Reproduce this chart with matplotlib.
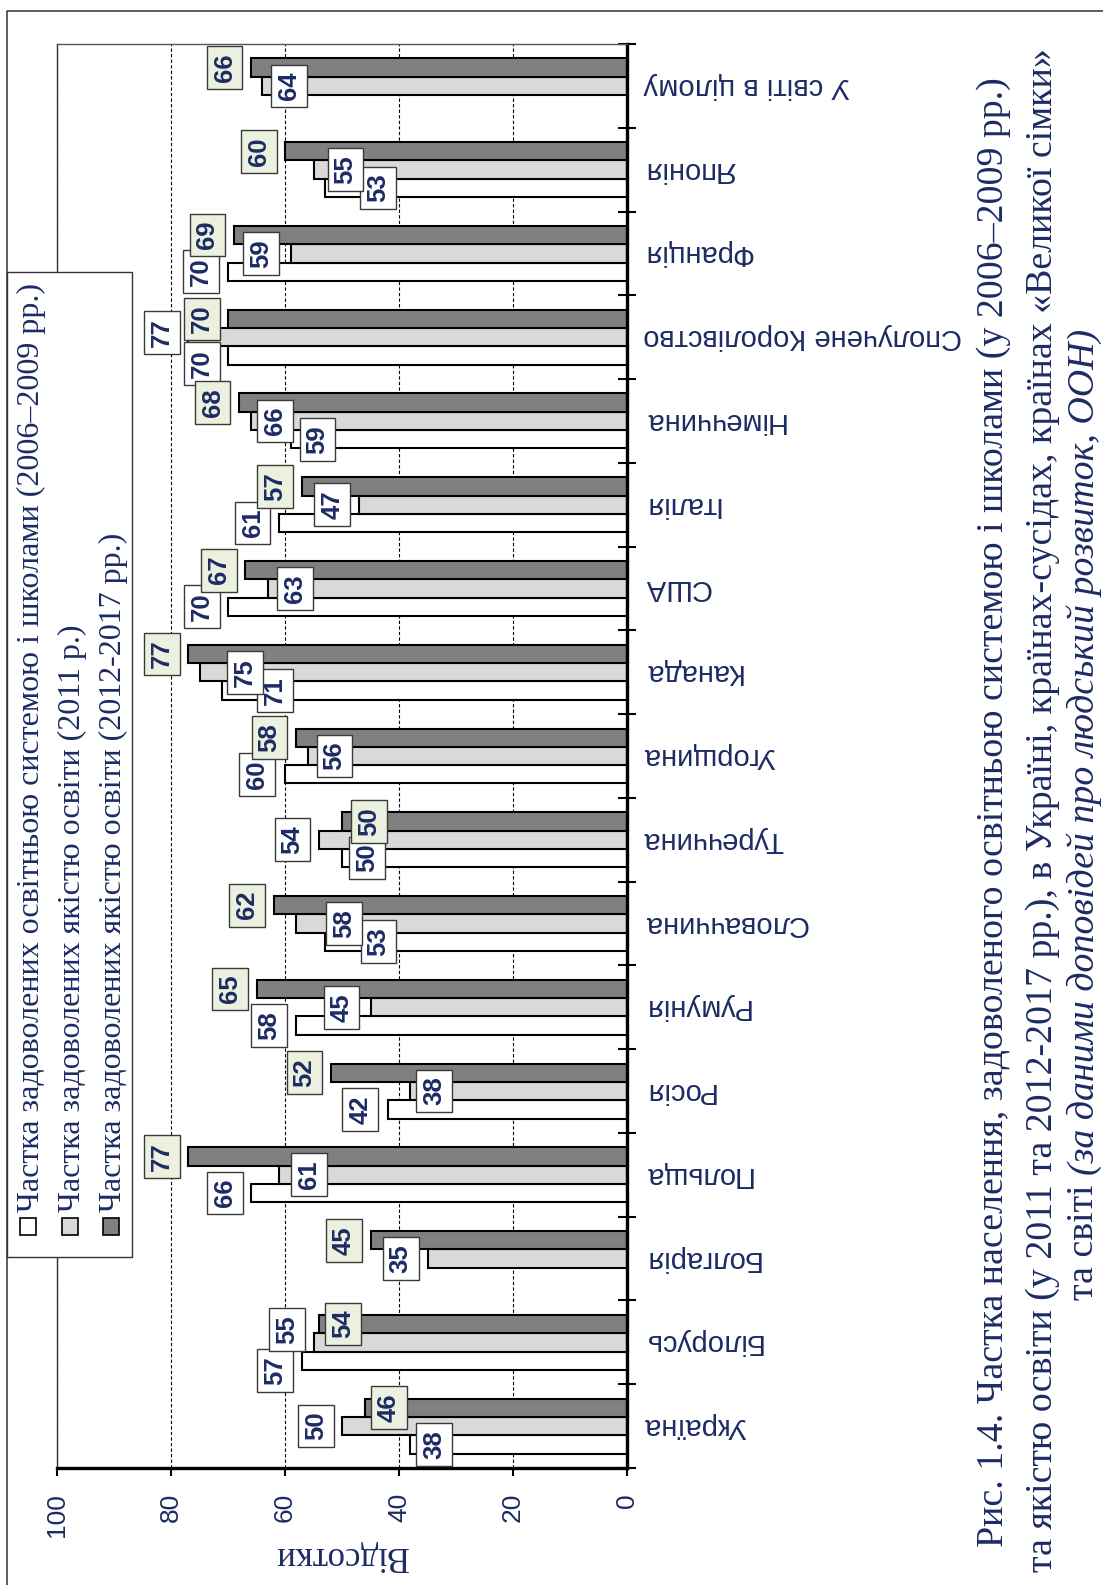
import numpy as np
import matplotlib
matplotlib.use("Agg")
import matplotlib.pyplot as plt
from matplotlib.patches import Rectangle
from matplotlib.lines import Line2D

# categories, bottom -> top in the (rotated) picture
categories = ["Україна", "Білорусь", "Болгарія", "Польща", "Росія", "Румунія",
              "Словаччина", "Туреччина", "Угорщина", "Канада", "США", "Італія",
              "Німеччина", "Сполучене Королівство", "Франція", "Японія",
              "У світі в цілому"]
sat_2006_2009 = [38, 57, None, 66, 42, 58, 53, 50, 60, 71, 70, 61, 59, 70, 70, 53, None]
qual_2011 = [50, 55, 35, 61, 38, 45, 58, 54, 56, 75, 63, 47, 66, 77, 59, 55, 64]
qual_2012_2017 = [46, 54, 45, 77, 52, 65, 62, 50, 58, 77, 67, 57, 68, 70, 69, 60, 66]

series_names = ["Частка задоволених освітньою системою і школами (2006–2009 рр.)",
                "Частка задоволених якістю освіти (2011 р.)",
                "Частка задоволених якістю освіти (2012-2017 рр.)"]

# data-label placement: shift from bar end (value units, + = beyond the bar)
shift_2006 = [-4.2, 4.7, 0, 4.5, 4.8, 4.8, -9.4, -4.4, 4.9, -9.3, 4.6, 4.7, -4.7, 4.6, 4.7, -9.3, 0]
shift_2011 = [4.6, 4.6, 4.7, -5.2, -4.2, 5.1, -8.4, 4.7, -4.7, -8.0, -4.7, 4.7, -4.2, 4.6, 5.2, -5.6, -4.7]
shift_2012 = [-4.2, -4.2, 4.7, 4.6, 4.6, 4.6, 4.7, -4.7, 4.7, 4.6, 4.6, 4.7, 4.7, 4.6, 4.6, 4.6, 4.6]
# a few labels were nudged along the category axis (pixels, + = downwards)
nudge_2006 = {1: 10, 13: 8}
nudge_2011 = {1: -13, 13: -5}

W, H = 1103, 1585
NAVY = "#1d2b64"
FILLS = ["#ffffff", "#d9d9d9", "#808080"]
BOXFILLS = ["#ffffff", "#ffffff", "#ebf1de"]

plt.rcParams.update({"font.family": "Liberation Sans"})
fig = plt.figure(figsize=(W / 100, H / 100), dpi=100)


def fx(px):
    return px / W


def fy(py):
    return 1 - py / H


# plot area in pixels: x 57..627, y 44..1468
ax = fig.add_axes([fx(57), fy(1468), 570 / W, 1424 / H])
n = len(categories)
y = np.arange(n)
bh = 0.2185
offs = [-bh, 0.0, bh]
all_series = [sat_2006_2009, qual_2011, qual_2012_2017]
all_shifts = [shift_2006, shift_2011, shift_2012]
all_nudges = [nudge_2006, nudge_2011, {}]

for k, vals in enumerate(all_series):
    v = np.array([np.nan if a is None else a for a in vals], dtype=float)
    ax.barh(y + offs[k], v, height=bh, color=FILLS[k], edgecolor="black",
            linewidth=1.5, zorder=2)

ax.set_xlim(100, 0)
ax.set_ylim(-0.5, n - 0.5)

# data labels as boxed rotated numbers
px_per_cat = 1424 / n
box_w = 35.7 * 100 / 570
box_h = 42.7 / px_per_cat
for k, vals in enumerate(all_series):
    for i, val in enumerate(vals):
        if val is None:
            continue
        cx = val + all_shifts[k][i]
        cy = y[i] + offs[k] - all_nudges[k].get(i, 0) / px_per_cat
        ax.add_patch(Rectangle((cx - box_w / 2, cy - box_h / 2), box_w, box_h,
                               facecolor=BOXFILLS[k], edgecolor="#3a3a3a",
                               linewidth=1.0, zorder=4 + k))
        ax.text(cx, cy, str(val), rotation=90, ha="center", va="center",
                fontsize=18.5, fontweight="bold", color=NAVY, zorder=4.5 + k)

# grid / spines
ax.set_xticks([0, 20, 40, 60, 80, 100])
ax.set_xticklabels(["0", "20", "40", "60", "80", "100"])
ax.xaxis.grid(True, color="black", linestyle=(0, (3, 2)), linewidth=0.8)
ax.set_axisbelow(True)
ax.spines["left"].set_color("#333333")
ax.spines["left"].set_linewidth(1.0)
ax.spines["top"].set_color("#555555")
ax.spines["top"].set_linewidth(1.0)
ax.spines["right"].set_linewidth(2.4)
ax.spines["bottom"].set_linewidth(2.4)
ax.tick_params(axis="x", direction="out", length=6, width=1.5, labelsize=19,
               labelrotation=90, pad=12, labelcolor=NAVY)

ax.yaxis.tick_right()
ax.set_yticks(y)
ax.set_yticklabels(categories)
ax.set_yticks(np.arange(-0.5, n, 1.0), minor=True)
ax.tick_params(axis="y", which="major", length=0, pad=11.5, labelsize=21,
               labelcolor=NAVY, labelrotation=180)
ax.tick_params(axis="y", which="minor", direction="inout", length=13, width=1.5,
               right=True, left=False)
for lab in ax.get_yticklabels():
    lab.set_verticalalignment("center")
    lab.set_horizontalalignment("left")

fig.text(fx(341), fy(1555), "Відсотки", rotation=180, ha="center", va="center",
         fontsize=25, family="Liberation Serif", color=NAVY)

# outer frame
fig.add_artist(Line2D([fx(7), fx(7), fx(W)], [fy(H), fy(11), fy(11)],
                      color="#333333", linewidth=1.1))

# legend (rotated, drawn by hand)
fig.add_artist(Rectangle((fx(7), fy(1257)), fx(132) - fx(7), fy(272) - fy(1257),
                         transform=fig.transFigure, facecolor="white",
                         edgecolor="#333333", linewidth=1.0, zorder=5))
mark_x = [28, 70, 111]
text_x = [31, 72, 113]
for k in range(3):
    fig.add_artist(Rectangle((fx(mark_x[k] - 8), fy(1235)), 16 / W, 17 / H,
                             transform=fig.transFigure, facecolor=FILLS[k],
                             edgecolor="black", linewidth=1.2, zorder=6))
    fig.text(fx(text_x[k]), fy(1212), series_names[k], rotation=90,
             rotation_mode="anchor", ha="left", va="center", fontsize=23,
             family="Liberation Serif", color=NAVY, zorder=6)

# caption
cap1 = "Рис. 1.4. Частка населення, задоволеного освітньою системою і школами (у 2006–2009 рр.)"
cap2 = "та якістю освіти (у 2011 та 2012-2017 рр.), в Україні, країнах-сусідах, країнах «Великої сімки»"
cap3a = "та світі "
cap3b = "(за даними доповідей про людський розвиток, ООН)"
cap_kw = dict(rotation=90, rotation_mode="anchor", ha="left", va="center",
              fontsize=27.3, family="Liberation Serif", color=NAVY)
fig.text(fx(994), fy(1547), cap1, **cap_kw)
fig.text(fx(1043), fy(1572), cap2, **cap_kw)
t3 = fig.text(fx(1084), fy(1300), cap3a, **cap_kw)
fig.canvas.draw()
ext = t3.get_window_extent()
fig.text(fx(1084), fy(1300) + ext.height / H, cap3b, style="italic", **cap_kw)

fig.savefig("out.png", dpi=100)
